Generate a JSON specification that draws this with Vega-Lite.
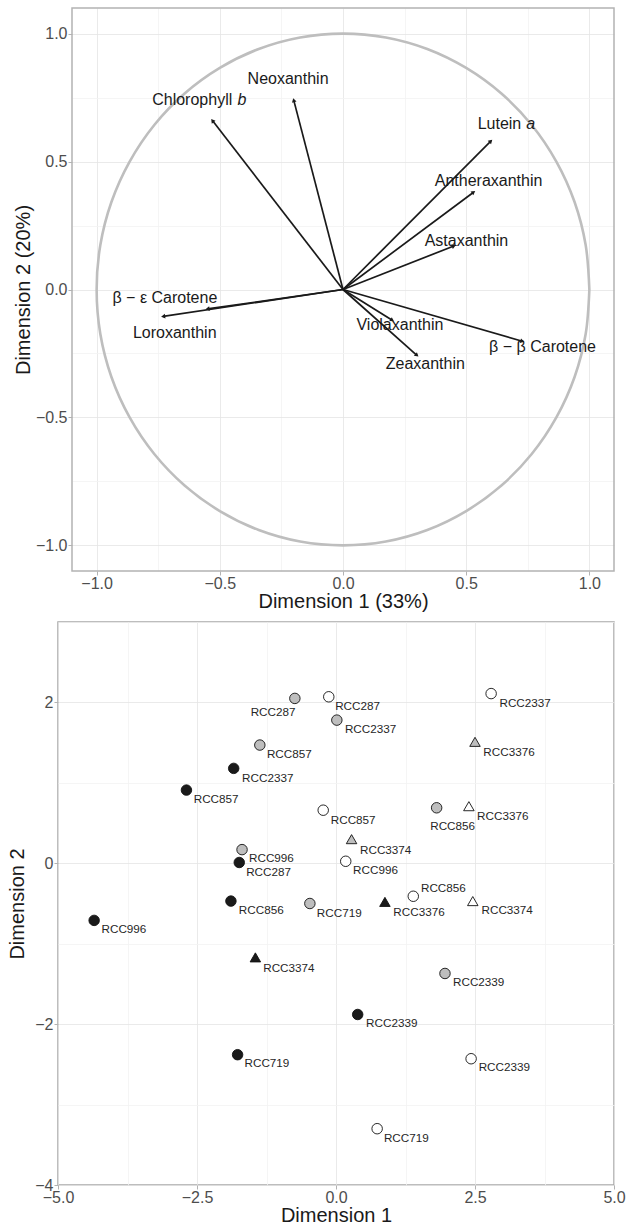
{
  "$schema": "https://vega.github.io/schema/vega-lite/v6.json",
  "padding": {"top": 7, "left": 7, "right": 5, "bottom": 0},
  "spacing": 2,
  "config": {
    "font": "Liberation Sans",
    "view": {"stroke": "#a8a8a8", "strokeWidth": 1.5},
    "axis": {
      "domain": false, "tickColor": "#b3b3b3", "tickSize": 4, "tickWidth": 1,
      "labelColor": "#4d4d4d", "labelFontSize": 16, "labelFont": "Liberation Sans",
      "titleFont": "Liberation Sans", "titleFontSize": 20, "titleFontWeight": "normal",
      "titleColor": "#1a1a1a", "labelFlush": false, "labelOverlap": false,
      "labelPadding": 1, "titlePadding": 0, "gridWidth": 0.8
    },
    "axisX": {"labelPadding": 0, "titlePadding": 0},
    "axisY": {"titlePadding": 2}
  },
  "vconcat": [
    {
      "width": 556, "height": 563,
      "view": {"stroke": null},
      "layer": [
        {
          "data": {"values": [
            {"a":0,"x":1,"y":0},{"a":10,"x":0.985,"y":0.174},{"a":20,"x":0.94,"y":0.342},{"a":30,"x":0.866,"y":0.5},
            {"a":40,"x":0.766,"y":0.643},{"a":50,"x":0.643,"y":0.766},{"a":60,"x":0.5,"y":0.866},{"a":70,"x":0.342,"y":0.94},
            {"a":80,"x":0.174,"y":0.985},{"a":90,"x":0,"y":1},{"a":100,"x":-0.174,"y":0.985},{"a":110,"x":-0.342,"y":0.94},
            {"a":120,"x":-0.5,"y":0.866},{"a":130,"x":-0.643,"y":0.766},{"a":140,"x":-0.766,"y":0.643},{"a":150,"x":-0.866,"y":0.5},
            {"a":160,"x":-0.94,"y":0.342},{"a":170,"x":-0.985,"y":0.174},{"a":180,"x":-1,"y":0},{"a":190,"x":-0.985,"y":-0.174},
            {"a":200,"x":-0.94,"y":-0.342},{"a":210,"x":-0.866,"y":-0.5},{"a":220,"x":-0.766,"y":-0.643},{"a":230,"x":-0.643,"y":-0.766},
            {"a":240,"x":-0.5,"y":-0.866},{"a":250,"x":-0.342,"y":-0.94},{"a":260,"x":-0.174,"y":-0.985},{"a":270,"x":0,"y":-1},
            {"a":280,"x":0.174,"y":-0.985},{"a":290,"x":0.342,"y":-0.94},{"a":300,"x":0.5,"y":-0.866},{"a":310,"x":0.643,"y":-0.766},
            {"a":320,"x":0.766,"y":-0.643},{"a":330,"x":0.866,"y":-0.5},{"a":340,"x":0.94,"y":-0.342},{"a":350,"x":0.985,"y":-0.174},
            {"a":360,"x":1,"y":0}
          ]},
          "mark": {"type": "line", "color": "#bebebe", "strokeWidth": 2.6, "interpolate": "catmull-rom"},
          "encoding": {
            "x": {"field": "x", "type": "quantitative", "title": "Dimension 1 (33%)",
              "scale": {"domain": [-1.1, 1.1], "range": [14, 556], "nice": false, "zero": false},
              "axis": {"values": [-1,-0.75,-0.5,-0.25,0,0.25,0.5,0.75,1], "format": ".1f", "titleX": 285,
                "labelExpr": "abs(datum.value*2-round(datum.value*2))>0.01 ? '' : datum.label",
                "gridColor": {"condition": {"test": "abs(datum.value*2-round(datum.value*2))>0.01", "value": "#f3f3f3"}, "value": "#e4e4e4"},
                "tickOpacity": {"condition": {"test": "abs(datum.value*2-round(datum.value*2))>0.01", "value": 0}, "value": 1}}},
            "y": {"field": "y", "type": "quantitative", "title": "Dimension 2 (20%)",
              "scale": {"domain": [-1.1, 1.1], "nice": false, "zero": false},
              "axis": {"values": [-1,-0.75,-0.5,-0.25,0,0.25,0.5,0.75,1], "format": ".1f", "offset": -14,
                "labelExpr": "abs(datum.value*2-round(datum.value*2))>0.01 ? '' : datum.label",
                "gridColor": {"condition": {"test": "abs(datum.value*2-round(datum.value*2))>0.01", "value": "#f3f3f3"}, "value": "#e4e4e4"},
                "tickOpacity": {"condition": {"test": "abs(datum.value*2-round(datum.value*2))>0.01", "value": 0}, "value": 1}}},
            "order": {"field": "a", "type": "quantitative"}
          }
        },
        {
          "data": {"name": "vars", "values": [
            {"var":"Chlorophyll b","x":-0.53,"y":0.66,"label":"Chlorophyll","lx":-0.612,"ly":0.739},
            {"var":"Neoxanthin","x":-0.2,"y":0.74,"label":"Neoxanthin","lx":-0.223,"ly":0.823},
            {"var":"Lutein a","x":0.6,"y":0.58,"label":"Lutein","lx":0.635,"ly":0.645},
            {"var":"Antheraxanthin","x":0.53,"y":0.38,"label":"Antheraxanthin","lx":0.591,"ly":0.423},
            {"var":"Astaxanthin","x":0.45,"y":0.17,"label":"Astaxanthin","lx":0.501,"ly":0.189},
            {"var":"b-e Carotene","x":-0.55,"y":-0.076,"label":"β − ε Carotene","lx":-0.723,"ly":-0.035},
            {"var":"Loroxanthin","x":-0.73,"y":-0.105,"label":"Loroxanthin","lx":-0.683,"ly":-0.17},
            {"var":"Violaxanthin","x":0.2,"y":-0.12,"label":"Violaxanthin","lx":0.231,"ly":-0.137},
            {"var":"Zeaxanthin","x":0.3,"y":-0.257,"label":"Zeaxanthin","lx":0.334,"ly":-0.293},
            {"var":"b-b Carotene","x":0.728,"y":-0.202,"label":"β − β Carotene","lx":0.81,"ly":-0.224}
          ]},
          "layer": [
            {
              "mark": {"type": "rule", "color": "#1a1a1a", "strokeWidth": 1.7},
              "encoding": {
                "x": {"field": "x", "type": "quantitative", "title": "Dimension 1 (33%)"},
                "y": {"field": "y", "type": "quantitative", "title": "Dimension 2 (20%)"},
                "x2": {"datum": 0},
                "y2": {"datum": 0}
              }
            },
            {
              "transform": [{"calculate": "atan2(datum.x*246, datum.y*256)*180/PI", "as": "ang"}],
              "mark": {"type": "point", "shape": "triangle-up", "filled": true, "color": "#1a1a1a", "opacity": 1, "size": 22},
              "encoding": {
                "x": {"field": "x", "type": "quantitative", "title": "Dimension 1 (33%)"},
                "y": {"field": "y", "type": "quantitative", "title": "Dimension 2 (20%)"},
                "angle": {"field": "ang", "type": "quantitative", "scale": null}
              }
            },
            {
              "mark": {"type": "text", "fontSize": 16, "color": "#1a1a1a", "align": "center", "baseline": "middle"},
              "encoding": {
                "x": {"field": "lx", "type": "quantitative", "title": "Dimension 1 (33%)"},
                "y": {"field": "ly", "type": "quantitative", "title": "Dimension 2 (20%)"},
                "text": {"field": "label"}
              }
            }
          ]
        },
        {
          "data": {"values": [
            {"t": "b", "lx": -0.41, "ly": 0.739},
            {"t": "a", "lx": 0.762, "ly": 0.645}
          ]},
          "mark": {"type": "text", "fontSize": 16, "fontStyle": "italic", "color": "#1a1a1a", "align": "center", "baseline": "middle"},
          "encoding": {
            "x": {"field": "lx", "type": "quantitative", "title": "Dimension 1 (33%)"},
            "y": {"field": "ly", "type": "quantitative", "title": "Dimension 2 (20%)"},
            "text": {"field": "t"}
          }
        },
        {
          "data": {"values": [{"panel": "frame"}]},
          "mark": {"type": "rect", "filled": false, "stroke": "#b3b3b3", "strokeWidth": 1.5},
          "encoding": {
            "x": {"datum": -1.1, "type": "quantitative", "title": "Dimension 1 (33%)"},
            "x2": {"datum": 1.1},
            "y": {"datum": -1.1, "type": "quantitative", "title": "Dimension 2 (20%)"},
            "y2": {"datum": 1.1}
          }
        }
      ]
    },
    {
      "width": 556, "height": 563,
      "data": {"values": [
        {"strain":"RCC287","cond":"C2","x":-0.74,"y":2.05,"lx":-1.535,"ly":1.883},
        {"strain":"RCC287","cond":"C3","x":-0.13,"y":2.07,"lx":-0.015,"ly":1.958},
        {"strain":"RCC2337","cond":"C3","x":2.79,"y":2.11,"lx":2.94,"ly":1.995},
        {"strain":"RCC2337","cond":"C2","x":0.015,"y":1.78,"lx":0.16,"ly":1.67},
        {"strain":"RCC3376","cond":"C2","x":2.5,"y":1.51,"lx":2.65,"ly":1.385},
        {"strain":"RCC857","cond":"C2","x":-1.37,"y":1.47,"lx":-1.243,"ly":1.36},
        {"strain":"RCC2337","cond":"C1","x":-1.84,"y":1.18,"lx":-1.689,"ly":1.062},
        {"strain":"RCC857","cond":"C1","x":-2.69,"y":0.91,"lx":-2.559,"ly":0.8},
        {"strain":"RCC857","cond":"C3","x":-0.23,"y":0.66,"lx":-0.094,"ly":0.539},
        {"strain":"RCC856","cond":"C2","x":1.81,"y":0.69,"lx":1.695,"ly":0.464},
        {"strain":"RCC3376","cond":"C3","x":2.39,"y":0.71,"lx":2.537,"ly":0.589},
        {"strain":"RCC3374","cond":"C2","x":0.28,"y":0.3,"lx":0.432,"ly":0.166},
        {"strain":"RCC996","cond":"C2","x":-1.69,"y":0.17,"lx":-1.564,"ly":0.066},
        {"strain":"RCC287","cond":"C1","x":-1.74,"y":0.01,"lx":-1.616,"ly":-0.108},
        {"strain":"RCC996","cond":"C3","x":0.175,"y":0.025,"lx":0.307,"ly":-0.078},
        {"strain":"RCC856","cond":"C3","x":1.39,"y":-0.41,"lx":1.528,"ly":-0.302},
        {"strain":"RCC856","cond":"C1","x":-1.89,"y":-0.47,"lx":-1.748,"ly":-0.581},
        {"strain":"RCC719","cond":"C2","x":-0.47,"y":-0.5,"lx":-0.344,"ly":-0.614},
        {"strain":"RCC3376","cond":"C1","x":0.88,"y":-0.48,"lx":1.031,"ly":-0.601},
        {"strain":"RCC3374","cond":"C3","x":2.46,"y":-0.47,"lx":2.617,"ly":-0.585},
        {"strain":"RCC996","cond":"C1","x":-4.35,"y":-0.71,"lx":-4.217,"ly":-0.821},
        {"strain":"RCC3374","cond":"C1","x":-1.45,"y":-1.17,"lx":-1.309,"ly":-1.307},
        {"strain":"RCC2339","cond":"C2","x":1.96,"y":-1.37,"lx":2.105,"ly":-1.477},
        {"strain":"RCC2339","cond":"C1","x":0.39,"y":-1.88,"lx":0.541,"ly":-1.988},
        {"strain":"RCC719","cond":"C1","x":-1.77,"y":-2.38,"lx":-1.645,"ly":-2.485},
        {"strain":"RCC2339","cond":"C3","x":2.43,"y":-2.43,"lx":2.566,"ly":-2.53},
        {"strain":"RCC719","cond":"C3","x":0.74,"y":-3.3,"lx":0.862,"ly":-3.414}
      ]},
      "layer": [
        {
          "mark": {"type": "point", "filled": true, "stroke": "#111111", "strokeWidth": 0.9, "opacity": 1},
          "encoding": {
            "x": {"field": "x", "type": "quantitative", "title": "Dimension 1",
              "scale": {"domain": [-5, 5], "nice": false, "zero": false},
              "axis": {"values": [-5,-3.75,-2.5,-1.25,0,1.25,2.5,3.75,5], "format": ".1f",
                "labelExpr": "abs(datum.value/2.5-round(datum.value/2.5))>0.01 ? '' : datum.label",
                "gridColor": {"condition": {"test": "abs(datum.value/2.5-round(datum.value/2.5))>0.01", "value": "#f3f3f3"}, "value": "#e4e4e4"},
                "tickOpacity": {"condition": {"test": "abs(datum.value/2.5-round(datum.value/2.5))>0.01", "value": 0}, "value": 1}}},
            "y": {"field": "y", "type": "quantitative", "title": "Dimension 2",
              "scale": {"domain": [-4, 3], "nice": false, "zero": false},
              "axis": {"values": [-4,-3,-2,-1,0,1,2,3], "format": "d", "titlePadding": 7,
                "labelExpr": "abs(datum.value/2-round(datum.value/2))>0.01 ? '' : datum.label",
                "gridColor": {"condition": {"test": "abs(datum.value/2-round(datum.value/2))>0.01", "value": "#f3f3f3"}, "value": "#e4e4e4"},
                "tickOpacity": {"condition": {"test": "abs(datum.value/2-round(datum.value/2))>0.01", "value": 0}, "value": 1}}},
            "fill": {"field": "cond", "type": "nominal", "legend": null,
              "scale": {"domain": ["C1","C2","C3"], "range": ["#1a1a1a","#bebebe","#ffffff"]}},
            "shape": {"field": "strain", "type": "nominal", "legend": null,
              "scale": {"domain": ["RCC287","RCC2337","RCC857","RCC856","RCC996","RCC719","RCC2339","RCC3374","RCC3376"],
                "range": ["circle","circle","circle","circle","circle","circle","circle","triangle-up","triangle-up"]}},
            "size": {"field": "strain", "type": "nominal", "legend": null,
              "scale": {"domain": ["RCC287","RCC2337","RCC857","RCC856","RCC996","RCC719","RCC2339","RCC3374","RCC3376"],
                "range": [110,110,110,110,110,110,110,160,160]}}
          }
        },
        {
          "mark": {"type": "text", "fontSize": 11.7, "color": "#262626", "align": "left", "baseline": "middle"},
          "encoding": {
            "x": {"field": "lx", "type": "quantitative", "title": "Dimension 1"},
            "y": {"field": "ly", "type": "quantitative", "title": "Dimension 2"},
            "text": {"field": "strain"}
          }
        }
      ]
    }
  ]
}
